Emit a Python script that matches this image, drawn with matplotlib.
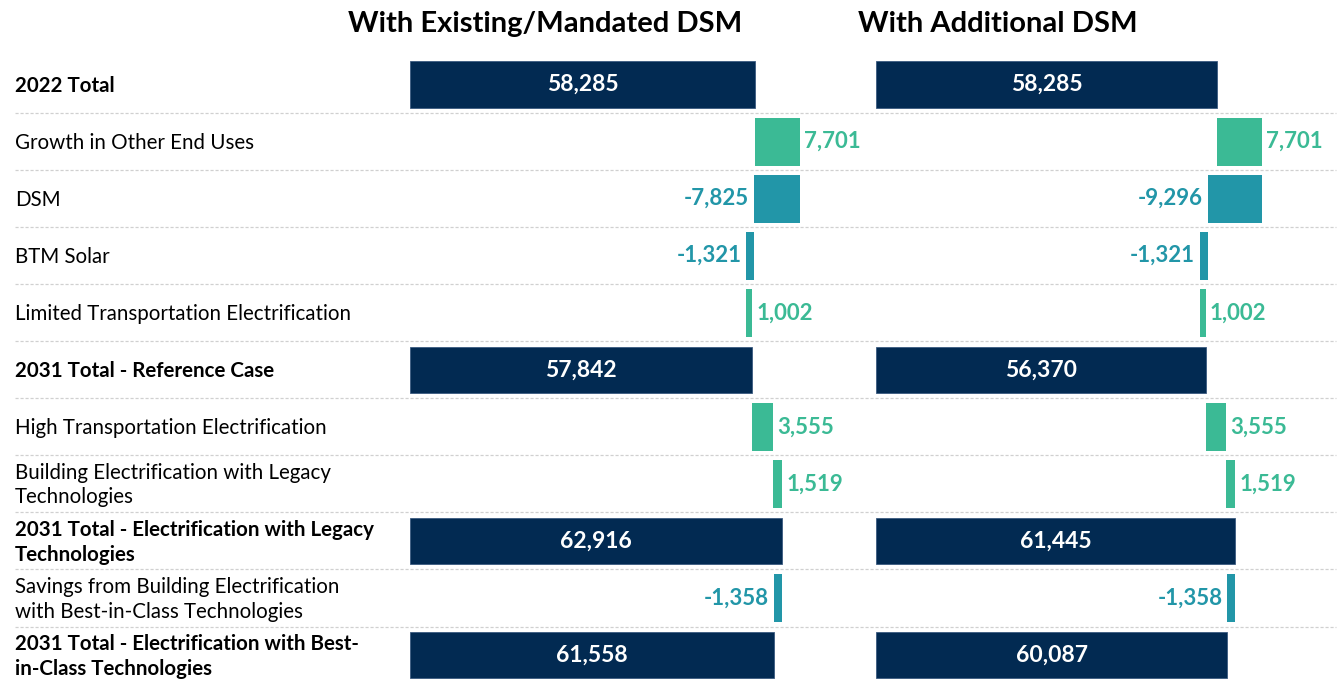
import matplotlib
matplotlib.use("Agg")
import matplotlib.pyplot as plt
import numpy as np

plt.rcParams['font.family'] = ['Lato', 'DejaVu Sans']

# ---- data ----
categories = [
    "2022 Total",
    "Growth in Other End Uses",
    "DSM",
    "BTM Solar",
    "Limited Transportation Electrification",
    "2031 Total - Reference Case",
    "High Transportation Electrification",
    "Building Electrification with Legacy\nTechnologies",
    "2031 Total - Electrification with Legacy\nTechnologies",
    "Savings from Building Electrification\nwith Best-in-Class Technologies",
    "2031 Total - Electrification with Best-\nin-Class Technologies",
]
is_total = [True, False, False, False, False, True, False, False, True, False, True]

panel_titles = ["With Existing/Mandated DSM", "With Additional DSM"]
existing_values = [58285, 7701, -7825, -1321, 1002, 57842, 3555, 1519, 62916, -1358, 61558]
additional_values = [58285, 7701, -9296, -1321, 1002, 56370, 3555, 1519, 61445, -1358, 60087]

NAVY = "#022A52"
GREEN = "#3BBA95"
TEAL = "#2296A8"

W, H = 1342, 682
fig = plt.figure(figsize=(W / 100, H / 100), dpi=100)

n = len(categories)
ax_bottom = -1.6 / H
ax_height = 627.6 / H
ylim = (n - 0.5, -0.5)

# background axis for labels and separators
bg = fig.add_axes([0, ax_bottom, 1, ax_height])
bg.set_xlim(0, W)
bg.set_ylim(*ylim)
bg.axis("off")
for i in range(n - 1):
    bg.plot([15, 1336], [i + 0.5, i + 0.5], color="#D0D0D0", lw=0.9,
            ls=(0, (2.5, 1.5)), zorder=0)
for i, (cat, tot) in enumerate(zip(categories, is_total)):
    bg.text(15, i + 0.02, cat, ha="left", va="center", fontsize=14.8,
            fontweight="bold" if tot else "normal", color="black",
            linespacing=1.3)

scales = [169.0, 171.0]  # values per pixel
panels = [(410, existing_values), (876, additional_values)]
for (x0, vals), scale in zip(panels, scales):
    width_px = 460
    ax = fig.add_axes([x0 / W, ax_bottom, width_px / W, ax_height])
    ax.set_xlim(0, width_px * scale)
    ax.set_ylim(*ylim)
    ax.axis("off")
    running = 0
    for i, (v, tot) in enumerate(zip(vals, is_total)):
        if tot:
            ax.barh(i, v, left=0, height=0.81, color=NAVY, edgecolor="#3A5A80", lw=0.6)
            ax.text(v / 2, i, f"{v:,}", ha="center", va="center", color="white",
                    fontsize=16.5, fontweight="bold")
            running = v
        else:
            start = running
            end = running + v
            col = GREEN if v > 0 else TEAL
            ax.barh(i, v, left=start, height=0.84, color=col)
            if v > 0:
                ax.text(end + 4 * scale, i, f"{v:,}", ha="left", va="center",
                        color=col, fontsize=16, fontweight="bold")
            else:
                ax.text(end - 5 * scale, i, f"{v:,}", ha="right", va="center",
                        color=col, fontsize=16, fontweight="bold")
            running = end

fig.text(545 / W, 1 - 24 / H, panel_titles[0], ha="center", va="center",
         fontsize=21, fontweight="bold")
fig.text(998 / W, 1 - 24 / H, panel_titles[1], ha="center", va="center",
         fontsize=21, fontweight="bold")

fig.savefig("out.png", dpi=100, facecolor="white")
